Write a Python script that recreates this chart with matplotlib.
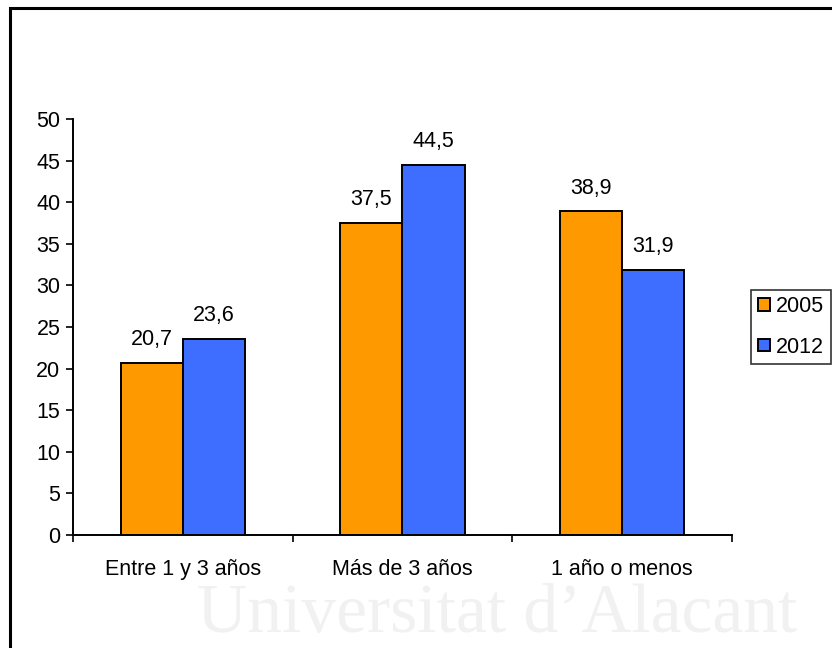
from matplotlib import pyplot as plt
from matplotlib.patches import Rectangle
import numpy as np

# Datos del grafico
categorias = ['Entre 1 y 3 años', 'Más de 3 años', '1 año o menos']
series = ['2005', '2012']
valores2005 = [20.7, 37.5, 38.9]
valores2012 = [23.6, 44.5, 31.9]
etiquetasY = [0, 5, 10, 15, 20, 25, 30, 35, 40, 45, 50]

# Colores
naranja = '#ff9900'
azul = '#3d6eff'

plt.rcParams['font.family'] = ['Liberation Sans', 'DejaVu Sans']
plt.rcParams['font.size'] = 15.5

figure = plt.figure(figsize=(8.32, 6.48), dpi=100)
figure.patch.set_facecolor('white')

# Marca de agua al pie
figure.text(0.237, 0.001, 'Universitat d\u2019Alacant', fontsize=50, family='Liberation Serif',
            color='#f1f1f1', ha='left', va='bottom', zorder=0)

ax = figure.add_axes([0.0877, 0.1744, 0.792, 0.642])
ax.set_facecolor('none')

# Barras agrupadas
posiciones = np.arange(len(categorias)) + 0.5
ancho = 0.283
barras2005 = ax.bar(posiciones - ancho / 2, valores2005, ancho, color=naranja, edgecolor='black', linewidth=1.4, label=series[0], zorder=2)
barras2012 = ax.bar(posiciones + ancho / 2, valores2012, ancho, color=azul, edgecolor='black', linewidth=1.4, label=series[1], zorder=2)

# Etiquetas con el valor encima de cada barra
for barras in (barras2005, barras2012):
    for barra in barras:
        valor = barra.get_height()
        ax.annotate(('%.1f' % valor).replace('.', ','), (barra.get_x() + barra.get_width() / 2, valor),
                    xytext=(0, 9), textcoords='offset points', ha='center', va='bottom')

ax.set_xlim(0, 3)
ax.set_ylim(0, 50)
ax.set_yticks(etiquetasY)

# Ticks del eje x en los limites de cada grupo, etiquetas centradas
ax.set_xticks(posiciones)
ax.set_xticklabels(categorias)
ax.set_xticks(np.arange(len(categorias) + 1), minor=True)
ax.tick_params(axis='x', which='major', length=0, pad=17.5)
ax.tick_params(axis='x', which='minor', length=5, width=1.2, direction='out')
ax.tick_params(axis='y', length=5, width=1.2, direction='out', pad=4)

for lado in ['top', 'right']:
    ax.spines[lado].set_visible(False)
for lado in ['left', 'bottom']:
    ax.spines[lado].set_linewidth(1.4)

# Leyenda a la derecha
legend = figure.legend(handles=[barras2005, barras2012], labels=series, loc='center left',
                       bbox_to_anchor=(0.903, 0.4955), frameon=True, fancybox=False,
                       handlelength=0.55, handleheight=0.55, handletextpad=0.3, labelspacing=0.9,
                       borderpad=0.3, borderaxespad=0, fontsize=15.5)
legend.get_frame().set_edgecolor('black')
legend.get_frame().set_linewidth(1.2)

# Marco exterior
figure.patches.append(Rectangle((0.0115, -0.2), 1.2, 1.1875, transform=figure.transFigure,
                                fill=False, edgecolor='black', linewidth=2.2, zorder=5))

plt.savefig('out.png', dpi=100, facecolor='white')
